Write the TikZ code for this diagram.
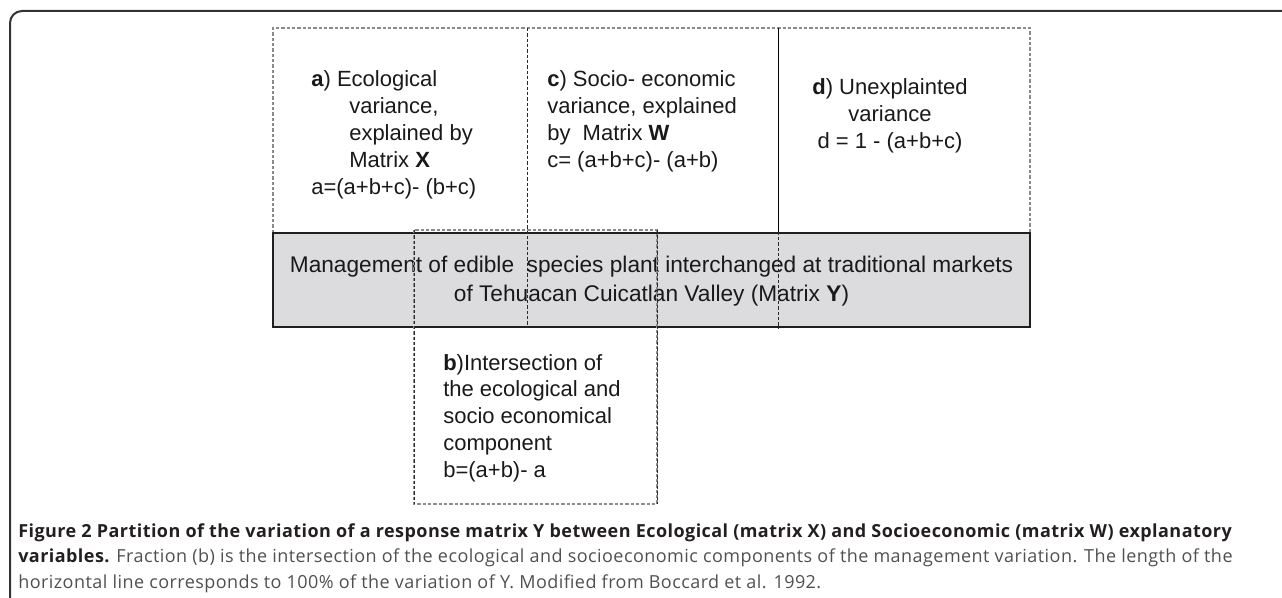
\documentclass[tikz,border=0pt]{standalone}
\usepackage{fontspec}
\setmainfont{Liberation Sans}
\newfontfamily\capfont[LetterSpace=2.5]{Open Sans}
\definecolor{framecol}{HTML}{333333}
\definecolor{dashgray}{HTML}{8A8A8A}
\definecolor{darkline}{HTML}{2A2A2A}
\definecolor{boxfill}{HTML}{DCDCDE}
\definecolor{captext}{HTML}{505050}
\definecolor{capbold}{HTML}{231F20}
\begin{document}
\begin{tikzpicture}[x=0.75pt,y=-0.75pt,
  frame/.style={draw=framecol, line width=1.5pt, rounded corners=9pt},
  ldash/.style={draw=dashgray, line width=0.8pt, dash pattern=on 2.5pt off 1.5pt},
  ddash/.style={draw=darkline, line width=0.75pt, dash pattern=on 2.5pt off 1.5pt},
  solidline/.style={draw=black, line width=0.75pt},
  graybox/.style={draw=black!88, fill=boxfill, line width=2.2pt, minimum width=567.75pt, minimum height=70.5pt, inner sep=0pt},
  boxtext/.style={inner sep=0pt, font=\fontsize{16.5}{20.25}\selectfont, text=black!90},
  captiontext/.style={inner sep=0pt, align=left, font=\capfont\fontsize{13.5}{19.1}\selectfont, text=captext}
]
\useasboundingbox (0,0) rectangle (1282,598);
\clip (0,0) rectangle (1282,598);
% outer frame
\draw[frame] (10,640) -- (10,11) -- (1320,11);
% corner coordinates of the explained-variance region
\coordinate (aTL) at (273,28);
\coordinate (aTR) at (1030,28);
\coordinate (acTop) at (527,28);
\coordinate (cdTop) at (778,28);
\coordinate (bTL) at (414,230);
\coordinate (bBR) at (657,504);
% outer dashed box (top part)
\draw[ldash] (273,233) -- (aTL) -- (aTR) -- (1030,233);
% response matrix box
\node[graybox] (Y) at (651.5,280) {};
\node[inner sep=0pt, anchor=base, align=center, font=\fontsize{17}{21.75}\selectfont, text=black!90] (Ytext) at (651.5,302) {Management of edible\ \ species plant interchanged at traditional markets\\of Tehuacan Cuicatlan Valley (Matrix \textbf{Y})};
% dividers
\draw[ddash] (acTop) -- (acTop |- Y.south);
\draw[solidline] (cdTop) -- (cdTop |- Y.north);
\draw[ddash] (cdTop |- Y.north) -- (cdTop |- Y.south);
% b box
\draw[ldash] (bTL) rectangle (bBR);
\draw[ddash] (bTL) -- (bTL |- bBR);
\draw[ddash] (bBR |- bTL) -- (bBR);
% texts (base anchor = baseline of last line)
\node[boxtext, anchor=base west, align=left] (ta) at (311,195) {\textbf{a}) Ecological\\\hspace*{28.5pt}variance,\\\hspace*{28.5pt}explained by\\\hspace*{28.5pt}Matrix \textbf{X}\\a=(a+b+c)- (b+c)};
\node[boxtext, anchor=base west, align=left] (tc) at (547,168) {\textbf{c}) Socio- economic\\variance, explained\\by\ \ Matrix \textbf{W}\\c= (a+b+c)- (a+b)};
\node[boxtext, anchor=base, align=center] (td) at (890,149) {\textbf{d}) Unexplainted\\variance\\d = 1 - (a+b+c)};
\node[boxtext, anchor=base west, align=left] (tb) at (443,478) {\textbf{b})Intersection of\\the ecological and\\socio economical\\component\\b=(a+b)- a};
% caption
\node[captiontext, anchor=base west] (cap) at (18,588) {{\color{capbold}\bfseries Figure 2 Partition of the variation of a response matrix Y between Ecological (matrix X) and Socioeconomic (matrix W) explanatory}\\{\color{capbold}\bfseries variables.} Fraction (b) is the intersection of the ecological and socioeconomic components of the management variation. The length of the\\horizontal line corresponds to 100\% of the variation of Y. Modified from Boccard et al. 1992.};
\end{tikzpicture}
\end{document}
